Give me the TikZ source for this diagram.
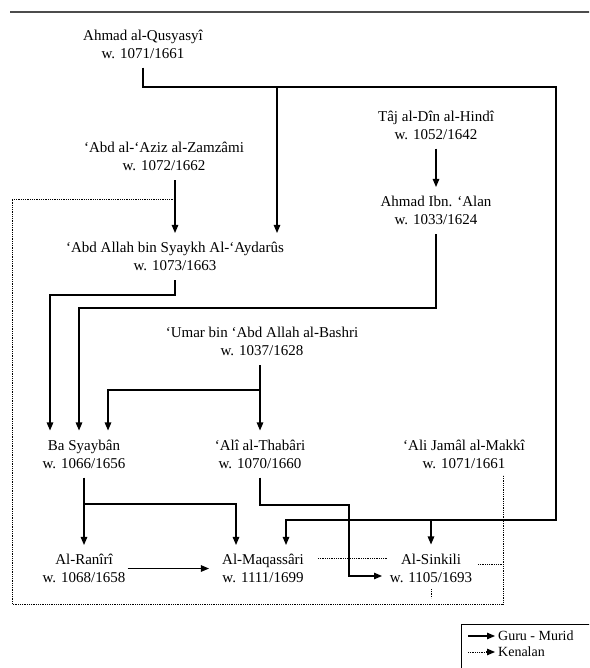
\documentclass[tikz,border=0pt]{standalone}
\usepackage{fontspec}
\setmainfont{Liberation Serif}
\usepackage{tikz}
\usetikzlibrary{arrows.meta,positioning,calc}

\begin{document}
\begin{tikzpicture}[x=1pt,y=-1pt,
    person/.style={align=center, inner xsep=2pt, inner ysep=9pt, font=\fontsize{15}{18}\selectfont},
    legend/.style={anchor=west, inner xsep=3pt, inner ysep=0pt, font=\fontsize{14}{16}\selectfont},
    guru/.style={line width=1.1pt, -{Triangle[length=8pt,width=6.5pt]}},
    kenal/.style={line width=0.8pt, densely dotted}]
    \useasboundingbox (0,0) rectangle (589,668);
    \clip (0,0) rectangle (589,668);

    % top rule
    \draw[line width=1.2pt, black!70] (10,12) -- (600,12);

    % the scholars
    \node[person] (qusyasyi) at (143,44) {Ahmad al-Qusyasyî\\w. 1071/1661};
    \node[person] (taj) at (436,125) {Tâj al-Dîn al-Hindî\\w. 1052/1642};
    \node[person] (zamzami) at (164,156.5) {‘Abd al-‘Aziz al-Zamzâmi\\w. 1072/1662};
    \node[person] (alan) at (436,210.5) {Ahmad Ibn. ‘Alan\\w. 1033/1624};
    \node[person] (aydarus) at (175,256.5) {‘Abd Allah bin Syaykh Al-‘Aydarûs\\w. 1073/1663};
    \node[person] (umar) at (262,341.5) {‘Umar bin ‘Abd Allah al-Bashri\\w. 1037/1628};
    \node[person] (basyayban) at (84,454) {Ba Syaybân\\w. 1066/1656};
    \node[person] (thabari) at (260,454) {‘Alî al-Thabâri\\w. 1070/1660};
    \node[person] (makki) at (464,454.5) {‘Ali Jamâl al-Makkî\\w. 1071/1661};
    \node[person] (ranir) at (84,568.5) {Al-Ranîrî\\w. 1068/1658};
    \node[person] (maqassari) at (263,568.5) {Al-Maqassâri\\w. 1111/1699};
    \node[person] (sinkili) at (431,568) {Al-Sinkili\\w. 1105/1693};

    % Qusyasyi
    \draw[guru] (qusyasyi.south) |- (556,87) |- (286,520) -- (286,520 |- maqassari.north);
    \draw[guru] (277,87) -- (277,87 |- aydarus.north);
    \draw[guru] (431,520) -- (sinkili.north);

    % Taj al-Din and Ibn 'Alan
    \draw[guru] (taj) -- (alan);
    \draw[guru] (alan.south) |- (79,308) -- (79,308 |- basyayban.north);

    % Zamzami and Aydarus
    \draw[guru] (aydarus.north |- zamzami.south) -- (aydarus.north);
    \draw[guru] (aydarus.south) |- (50,295) -- (50,295 |- basyayban.north);

    % Umar al-Bashri
    \draw[guru] (umar.south -| thabari.north) -- (thabari.north);
    \draw[guru] (260,390) -| (108,390 |- basyayban.north);

    % Ba Syayban
    \draw[guru] (basyayban) -- (ranir);
    \draw[guru] (84,504) -| (236,504 |- maqassari.north);

    % Thabari
    \draw[guru] (thabari.south) |- (349,505) |- (382,576);

    % Ranir
    \draw[guru, shorten >=11pt] (ranir) -- (maqassari);

    % kenalan
    \draw[kenal] (aydarus.north |- 0,199) -| (12,604) -| (503,475);
    \draw[kenal] (318,558) -- (387,558);
    \draw[kenal] (478,564) -- (503,564);
    \draw[kenal] (431,589) -- (431,598);

    % legend
    \draw[line width=1pt] (461,680) |- (620,624);
    \coordinate (g0) at (468,636);
    \coordinate (g1) at (495,636);
    \coordinate (k0) at (468,652);
    \coordinate (k1) at (486,652);
    \coordinate (k2) at (495,652);
    \draw[guru] (g0) -- (g1);
    \node[legend] (gurumurid) at (g1) {Guru - Murid};
    \draw[kenal] (k0) -- (k1);
    \draw[guru] (k1) -- (k2);
    \node[legend] (kenalan) at (k2) {Kenalan};
\end{tikzpicture}
\end{document}
